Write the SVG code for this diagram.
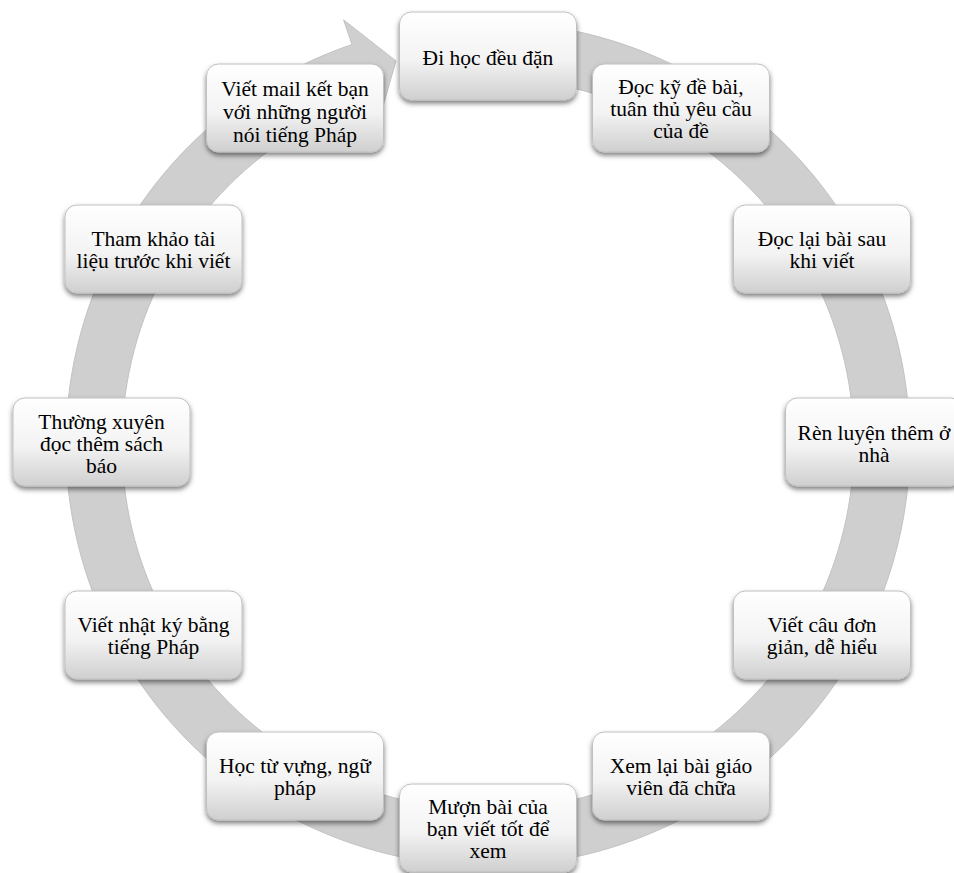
<svg xmlns="http://www.w3.org/2000/svg" width="954" height="873" viewBox="0 0 954 873">
<defs>
<linearGradient id="boxg" x1="0" y1="0" x2="0" y2="1">
<stop offset="0" stop-color="#ffffff"/>
<stop offset="0.55" stop-color="#f3f3f3"/>
<stop offset="1" stop-color="#cfcfcf"/>
</linearGradient>
<filter id="sh" x="-10%" y="-15%" width="120%" height="140%">
<feDropShadow dx="0" dy="3" stdDeviation="2.5" flood-color="#000" flood-opacity="0.5"/>
</filter>
<style>
.box{fill:url(#boxg);stroke:#c0c0c0;stroke-width:1;filter:url(#sh)}
.t{font-family:"Liberation Serif","DejaVu Serif",serif;font-size:21.5px;fill:#000;text-anchor:middle}
.ring{fill:#cfcfcf;stroke:#c2c2c2;stroke-width:1}
</style>
</defs>
<rect width="954" height="873" fill="#ffffff"/>
<g id="connectors">
<path class="ring" d="M510.1,22.6 A422,422 0 1 1 352.0,44.5 L343.6,19.9 L396.0,60.9 L378.4,122.1 L370.05,97.5 A366,366 0 1 0 507.2,78.5 Z"/>
</g>
<g id="n1"><rect class="box" x="399.5" y="12" width="177" height="88" rx="12"/>
<text class="t" x="488" y="65">Đi học đều đặn</text></g>
<g id="n2"><rect class="box" x="592.5" y="64" width="177" height="88" rx="12"/>
<text class="t" x="681" y="94">Đọc kỹ đề bài,<tspan x="681" dy="22">tuân thủ yêu cầu</tspan><tspan x="681" dy="22">của đề</tspan></text></g>
<g id="n3"><rect class="box" x="733.5" y="205" width="177" height="88" rx="12"/>
<text class="t" x="822" y="246">Đọc lại bài sau<tspan x="822" dy="22">khi viết</tspan></text></g>
<g id="n4"><rect class="box" x="785.5" y="398" width="177" height="88" rx="12"/>
<text class="t" x="874" y="440">Rèn luyện thêm ở<tspan x="874" dy="22">nhà</tspan></text></g>
<g id="n5"><rect class="box" x="733.5" y="591" width="177" height="88" rx="12"/>
<text class="t" x="822" y="632">Viết câu đơn<tspan x="822" dy="22">giản, dễ hiểu</tspan></text></g>
<g id="n6"><rect class="box" x="592.5" y="732" width="177" height="88" rx="12"/>
<text class="t" x="681" y="773">Xem lại bài giáo<tspan x="681" dy="22">viên đã chữa</tspan></text></g>
<g id="n7"><rect class="box" x="399.5" y="784" width="177" height="88" rx="12"/>
<text class="t" x="488" y="814">Mượn bài của<tspan x="488" dy="22">bạn viết tốt để</tspan><tspan x="488" dy="22">xem</tspan></text></g>
<g id="n8"><rect class="box" x="206.5" y="732" width="177" height="88" rx="12"/>
<text class="t" x="295" y="773">Học từ vựng, ngữ<tspan x="295" dy="22">pháp</tspan></text></g>
<g id="n9"><rect class="box" x="65" y="591" width="177" height="88" rx="12"/>
<text class="t" x="153.5" y="632">Viết nhật ký bằng<tspan x="153.5" dy="22">tiếng Pháp</tspan></text></g>
<g id="n10"><rect class="box" x="13" y="398" width="177" height="88" rx="12"/>
<text class="t" x="101.5" y="429">Thường xuyên<tspan x="101.5" dy="22">đọc thêm sách</tspan><tspan x="101.5" dy="22">báo</tspan></text></g>
<g id="n11"><rect class="box" x="65" y="205" width="177" height="88" rx="12"/>
<text class="t" x="153.5" y="246">Tham khảo tài<tspan x="153.5" dy="22">liệu trước khi viết</tspan></text></g>
<g id="n12"><rect class="box" x="206.5" y="64" width="177" height="88" rx="12"/>
<text class="t" x="295" y="96">Viết mail kết bạn<tspan x="295" dy="23">với những người</tspan><tspan x="295" dy="23">nói tiếng Pháp</tspan></text></g>
</svg>
